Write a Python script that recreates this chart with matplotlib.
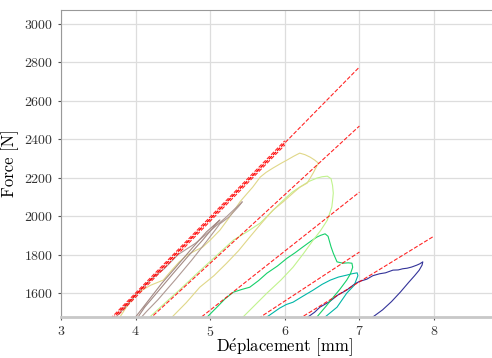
import matplotlib
matplotlib.use("Agg")
import matplotlib.pyplot as plt
import numpy as np

plt.rcParams['font.family'] = ['cmr10', 'DejaVu Serif']
plt.rcParams['mathtext.fontset'] = 'cm'
plt.rcParams['axes.formatter.use_mathtext'] = True

# cycles (force-displacement loops), last cycle first
navy_x = [6.25, 6.31, 6.40, 6.47, 6.60, 6.71, 6.83, 6.94, 7.00, 7.10, 7.18, 7.27, 7.35, 7.45, 7.52, 7.58, 7.64, 7.70, 7.77, 7.81, 7.85,
          7.84, 7.80, 7.74, 7.66, 7.55, 7.43, 7.31, 7.18, 7.10]
navy_f = [1455, 1475, 1500, 1526, 1555, 1589, 1615, 1648, 1660, 1672, 1690, 1700, 1705, 1719, 1720, 1726, 1729, 1735, 1745, 1752, 1762,
          1745, 1718, 1690, 1655, 1605, 1555, 1512, 1475, 1448]

teal_x = [5.70, 5.76, 5.93, 6.02, 6.11, 6.25, 6.38, 6.50, 6.61, 6.72, 6.83, 6.90, 6.97, 6.98, 6.93, 6.83, 6.70, 6.54, 6.50]
teal_f = [1455, 1475, 1521, 1540, 1552, 1585, 1615, 1645, 1667, 1683, 1693, 1700, 1705, 1690, 1640, 1599, 1526, 1475, 1460]

green_x = [4.90, 4.96, 5.10, 5.20, 5.31, 5.42, 5.53, 5.65, 5.76, 5.90, 6.03, 6.14, 6.24, 6.35, 6.43, 6.48, 6.54, 6.58, 6.62, 6.65,
           6.70, 6.78, 6.85, 6.90, 6.91, 6.88, 6.83, 6.74, 6.65, 6.55, 6.43, 6.40]
green_f = [1455, 1475, 1530, 1570, 1604, 1618, 1630, 1665, 1703, 1740, 1781, 1810, 1839, 1870, 1891, 1900, 1908, 1895, 1840, 1807,
           1762, 1755, 1757, 1755, 1734, 1700, 1667, 1620, 1578, 1530, 1475, 1462]

ygreen_x = [4.15, 4.19, 4.40, 4.60, 4.86, 5.10, 5.31, 5.50, 5.67, 5.83, 5.98, 6.10, 6.20, 6.32, 6.43, 6.50, 6.57, 6.62, 6.64, 6.65,
            6.64, 6.63, 6.57, 6.48, 6.38, 6.25, 6.11, 5.95, 5.76, 5.60, 5.44, 5.40]
ygreen_f = [1460, 1475, 1550, 1620, 1715, 1800, 1875, 1920, 1964, 2025, 2083, 2125, 2151, 2180, 2198, 2205, 2208, 2195, 2160, 2120,
            2080, 2047, 1979, 1925, 1875, 1805, 1734, 1668, 1599, 1537, 1475, 1460]

beige_x = [3.75, 3.79, 3.90, 4.02, 4.20, 4.37, 4.46, 4.58, 4.69, 4.80, 4.90, 5.00, 5.13, 5.25, 5.40, 5.50, 5.57, 5.67, 5.75, 5.84,
           5.95, 6.03, 6.12, 6.20, 6.27, 6.34, 6.40, 6.45, 6.38, 6.30, 6.20, 6.11, 5.98, 5.84, 5.68, 5.53, 5.38, 5.22, 5.05,
           4.86, 4.68, 4.49, 4.45]
beige_f = [1460, 1475, 1540, 1599, 1640, 1667, 1708, 1760, 1797, 1820, 1839, 1875, 1927, 1990, 2075, 2120, 2151, 2203, 2228, 2250,
           2275, 2292, 2312, 2328, 2320, 2307, 2292, 2276, 2224, 2172, 2150, 2120, 2075, 2031, 1960, 1891, 1820, 1755, 1690,
           1630, 1550, 1475, 1460]

browna_x = [3.70, 3.74, 3.90, 4.05, 4.15, 4.25, 4.38, 4.57, 4.80, 5.02, 5.20, 5.33, 5.43, 5.38, 5.25, 5.13, 4.95, 4.75, 4.53,
            4.30, 4.15, 4.08, 4.04]
browna_f = [1460, 1475, 1545, 1610, 1650, 1685, 1725, 1800, 1858, 1930, 1990, 2038, 2075, 2050, 1995, 1960, 1868, 1770, 1668,
            1565, 1505, 1475, 1460]

brownb_x = [3.97, 4.00, 4.20, 4.35, 4.53, 4.75, 4.95, 5.13, 5.05, 4.90, 4.70, 4.50, 4.30, 4.12, 4.05, 4.02]
brownb_f = [1460, 1475, 1575, 1650, 1730, 1830, 1918, 1980, 1945, 1876, 1790, 1700, 1608, 1525, 1485, 1465]

loops_x = [navy_x, teal_x, green_x, ygreen_x, beige_x, browna_x, brownb_x]
loops_f = [navy_f, teal_f, green_f, ygreen_f, beige_f, browna_f, brownb_f]
loop_cmap_vals = [0.0, 0.21, 0.27, 0.44, 0.56, 0.84, 0.82]

# fitted stiffness lines: end point and slope
fit_x_end = [7.0, 6.0, 6.0, 6.0, 7.0, 7.0, 7.0, 8.0]
fit_f_end = [2776, 2392, 2370, 2381, 2469, 2125, 1813, 1896]
fit_slope = [395, 396, 396, 396, 357, 307, 255, 238]

fig = plt.figure(figsize=(4.92, 3.58), dpi=100)
ax = fig.add_axes([61 / 492, 41 / 358, 447.6 / 492, 307 / 358])

cmap = plt.get_cmap('terrain')
for xs, fs, v in zip(loops_x, loops_f, loop_cmap_vals):
    ax.plot(xs, fs, color=cmap(v), lw=0.8)

for xe, fe, k in zip(fit_x_end, fit_f_end, fit_slope):
    x0 = xe - (fe - 1400) / k
    ax.plot([x0, xe], [1400, fe], color='red', ls='--', lw=0.8, alpha=0.85)

ax.set_xlim(3, 9)
ax.set_ylim(1475, 3073)
ax.set_xticks([3, 4, 5, 6, 7, 8])
ax.set_yticks([1600, 1800, 2000, 2200, 2400, 2600, 2800, 3000])
ax.grid(True, color='#dddddd', lw=0.9)
ax.set_axisbelow(True)

for s in ['top', 'left']:
    ax.spines[s].set_color('#999999')
ax.spines['bottom'].set_color('#c8c8c8')
ax.spines['bottom'].set_linewidth(2)
ax.spines['right'].set_visible(False)
ax.tick_params(length=2, width=0.8, color='#555555', labelsize=10, labelcolor='#333333')

ax.set_xlabel(r'D$\mathrm{\acute{e}}$placement [mm]', fontsize=12, labelpad=-1)
ax.set_ylabel('Force [N]', fontsize=12, labelpad=4)

fig.savefig('out.png', dpi=100)
